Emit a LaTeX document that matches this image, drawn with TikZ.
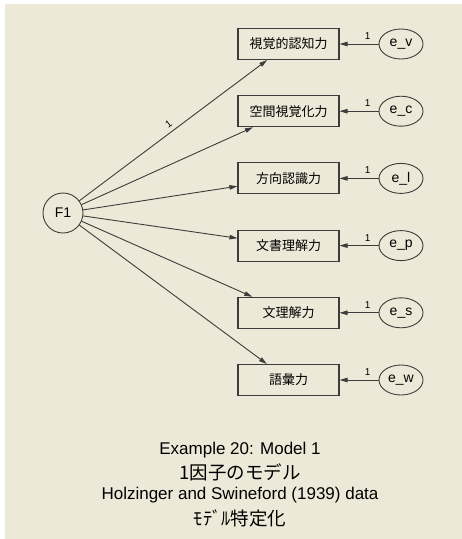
\documentclass[tikz,border=0pt]{standalone}
\usepackage{fontspec}
\setmainfont{Liberation Sans}
\newfontfamily\jp{Noto Sans CJK JP}
\usetikzlibrary{arrows.meta,shapes.geometric}
\definecolor{panel}{RGB}{236,233,216}
\definecolor{ink}{RGB}{60,60,60}
\tikzset{
  obs/.style={draw=ink, line width=1.1pt, minimum width=101pt, minimum height=31pt,
    inner sep=0pt, font=\jp\fontsize{13}{13}\selectfont},
  err/.style={draw=ink, line width=0.9pt, ellipse, minimum width=44pt, minimum height=30pt,
    inner sep=0pt, font=\fontsize{14}{14}\selectfont},
  load/.style={draw=ink, line width=0.9pt, -{Triangle[length=8pt,width=4.5pt]}},
  one/.style={font=\fontsize{10}{10}\selectfont, inner sep=1pt},
  capen/.style={font=\fontsize{17}{17}\selectfont},
  capjp/.style={font=\jp\fontsize{18.5}{18.5}\selectfont}
}
\begin{document}
\begin{tikzpicture}[x=1pt,y=-1pt]
\fill[white] (0,0) rectangle (462,539);
\fill[panel] (5,4) rectangle (462,539);
% factor
\node[circle, draw=ink, line width=0.9pt, minimum size=40pt, inner sep=0pt,
  font=\fontsize{14}{14}\selectfont] (F1) at (63,213) {F1};
% observed
\node[obs] (vis) at (288.5,44) {視覚的認知力};
\node[obs] (spa) at (288.5,111.2) {空間視覚化力};
\node[obs] (ori) at (288.5,178.4) {方向認識力};
\node[obs] (par) at (288.5,245.6) {文書理解力};
\node[obs] (sen) at (288.5,312.8) {文理解力};
\node[obs] (wor) at (288.5,380) {語彙力};
% errors
\node[err] (ev) at (401,44) {e\_v};
\node[err] (ec) at (401,111.2) {e\_c};
\node[err] (el) at (401,178.4) {e\_l};
\node[err] (ep) at (401,245.6) {e\_p};
\node[err] (es) at (401,312.8) {e\_s};
\node[err] (ew) at (401,380) {e\_w};
% loadings
\draw[load] (F1) -- node[one, sloped, above=3pt, pos=.5] {1} (vis);
\draw[load] (F1) -- (spa);
\draw[load] (F1) -- (ori);
\draw[load] (F1) -- (par);
\draw[load] (F1) -- (sen);
\draw[load] (F1) -- (wor);
% error paths
\draw[load] (ev) -- node[one, above=3pt, pos=.28] {1} (vis);
\draw[load] (ec) -- node[one, above=3pt, pos=.28] {1} (spa);
\draw[load] (el) -- node[one, above=3pt, pos=.28] {1} (ori);
\draw[load] (ep) -- node[one, above=3pt, pos=.28] {1} (par);
\draw[load] (es) -- node[one, above=3pt, pos=.28] {1} (sen);
\draw[load] (ew) -- node[one, above=3pt, pos=.28] {1} (wor);
% caption
\node[capen] (title) at (240,450) {Example 20: Model 1};
\node[capjp] (model) at (240,472) {1因子のモデル};
\node[capen] (data) at (240,495) {Holzinger and Swineford (1939) data};
\node[capjp] (spec) at (240,518) {ﾓﾃﾞﾙ特定化};
\end{tikzpicture}
\end{document}
